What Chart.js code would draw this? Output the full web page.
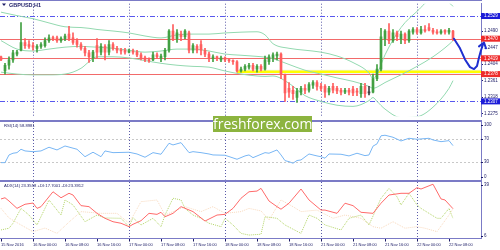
<!DOCTYPE html>
<html><head><meta charset="utf-8">
<script src="https://cdn.jsdelivr.net/npm/chart.js@4.4.1/dist/chart.umd.min.js"></script>
<style>
html,body{margin:0;padding:0;background:#fff;}
#wrap{position:relative;width:500px;height:250px;overflow:hidden;background:#fff;}
canvas{position:absolute;left:0;}
#wm{position:absolute;left:213px;top:116px;width:99px;height:16px;background:#8cb43f;color:#fff;font:14px "Open Sans",sans-serif;line-height:16px;text-align:center;white-space:nowrap;}
</style></head><body>
<div id="wrap">
<canvas id="c1" width="500" height="120" style="top:0"></canvas>
<canvas id="c2" width="500" height="60" style="top:120px"></canvas>
<canvas id="c3" width="500" height="70" style="top:180px"></canvas>
<div id="wm">freshforex.com</div>
</div>
<script>
// ---------- DATA ----------
const symbolTitle = "GBPUSD,H1";
const open  = [1.2423,1.2386,1.2401,1.2415,1.2430,1.2440,1.2460,1.2455,1.2452,1.2445,1.2450,1.2452,1.2465,1.2472,1.2472,1.2465,1.2470,1.2482,1.2472,1.2465,1.2455,1.2445,1.2433,1.2420,1.2452,1.2435,1.2450,1.2435,1.2455,1.2445,1.2440,1.2440,1.2435,1.2438,1.2435,1.2428,1.2420,1.2415,1.2415,1.2428,1.2420,1.2423,1.2440,1.2490,1.2470,1.2482,1.2475,1.2485,1.2440,1.2450,1.2455,1.2440,1.2430,1.2418,1.2423,1.2415,1.2420,1.2415,1.2413,1.2410,1.2386,1.2391,1.2396,1.2401,1.2391,1.2398,1.2391,1.2410,1.2420,1.2425,1.2430,1.2376,1.2341,1.2336,1.2317,1.2331,1.2341,1.2336,1.2349,1.2356,1.2346,1.2346,1.2331,1.2346,1.2341,1.2336,1.2331,1.2336,1.2339,1.2334,1.2327,1.2346,1.2329,1.2331,1.2366,1.2391,1.2470,1.2490,1.2465,1.2485,1.2470,1.2482,1.2465,1.2487,1.2494,1.2485,1.2494,1.2499,1.2492,1.2487,1.2485,1.2492,1.2487,1.2490];
const high  = [1.2425,1.2406,1.2423,1.2440,1.2440,1.2512,1.2470,1.2465,1.2460,1.2455,1.2460,1.2472,1.2480,1.2477,1.2477,1.2475,1.2482,1.2502,1.2485,1.2470,1.2460,1.2450,1.2440,1.2440,1.2470,1.2457,1.2455,1.2465,1.2460,1.2450,1.2445,1.2445,1.2443,1.2443,1.2440,1.2433,1.2425,1.2420,1.2435,1.2433,1.2430,1.2445,1.2494,1.2507,1.2494,1.2490,1.2494,1.2490,1.2457,1.2455,1.2465,1.2445,1.2435,1.2428,1.2425,1.2425,1.2423,1.2418,1.2415,1.2413,1.2396,1.2403,1.2406,1.2406,1.2403,1.2403,1.2425,1.2428,1.2433,1.2435,1.2433,1.2378,1.2356,1.2346,1.2341,1.2346,1.2351,1.2356,1.2361,1.2361,1.2354,1.2351,1.2346,1.2354,1.2346,1.2341,1.2341,1.2341,1.2346,1.2341,1.2354,1.2354,1.2346,1.2378,1.2403,1.2497,1.2494,1.2509,1.2494,1.2490,1.2490,1.2485,1.2494,1.2499,1.2499,1.2502,1.2504,1.2509,1.2497,1.2494,1.2494,1.2494,1.2497,1.2492];
const low   = [1.2413,1.2378,1.2391,1.2408,1.2425,1.2438,1.2445,1.2445,1.2440,1.2435,1.2445,1.2448,1.2460,1.2465,1.2460,1.2460,1.2465,1.2465,1.2455,1.2448,1.2440,1.2425,1.2408,1.2410,1.2420,1.2428,1.2415,1.2428,1.2440,1.2433,1.2430,1.2430,1.2433,1.2430,1.2423,1.2415,1.2410,1.2408,1.2413,1.2418,1.2410,1.2415,1.2435,1.2465,1.2460,1.2465,1.2470,1.2433,1.2433,1.2433,1.2428,1.2423,1.2410,1.2410,1.2413,1.2410,1.2410,1.2408,1.2403,1.2383,1.2383,1.2386,1.2391,1.2386,1.2383,1.2386,1.2388,1.2403,1.2410,1.2415,1.2366,1.2307,1.2317,1.2312,1.2304,1.2324,1.2327,1.2331,1.2341,1.2336,1.2334,1.2317,1.2324,1.2329,1.2327,1.2324,1.2327,1.2324,1.2322,1.2322,1.2317,1.2317,1.2324,1.2329,1.2361,1.2386,1.2452,1.2457,1.2460,1.2465,1.2457,1.2457,1.2460,1.2482,1.2482,1.2482,1.2487,1.2490,1.2482,1.2482,1.2482,1.2482,1.2482,1.2465];
const close = [1.2415,1.2401,1.2415,1.2433,1.2435,1.2460,1.2452,1.2450,1.2448,1.2450,1.2455,1.2465,1.2472,1.2470,1.2465,1.2470,1.2477,1.2470,1.2460,1.2455,1.2445,1.2433,1.2423,1.2435,1.2435,1.2450,1.2435,1.2455,1.2445,1.2440,1.2438,1.2435,1.2438,1.2435,1.2428,1.2420,1.2415,1.2413,1.2428,1.2423,1.2425,1.2440,1.2490,1.2470,1.2485,1.2475,1.2490,1.2440,1.2452,1.2440,1.2440,1.2430,1.2420,1.2423,1.2418,1.2420,1.2415,1.2413,1.2410,1.2386,1.2391,1.2398,1.2401,1.2391,1.2398,1.2391,1.2415,1.2423,1.2428,1.2430,1.2378,1.2329,1.2331,1.2327,1.2334,1.2341,1.2336,1.2351,1.2356,1.2346,1.2341,1.2331,1.2341,1.2336,1.2334,1.2331,1.2336,1.2331,1.2329,1.2331,1.2346,1.2327,1.2329,1.2366,1.2391,1.2475,1.2490,1.2465,1.2485,1.2475,1.2482,1.2465,1.2490,1.2494,1.2487,1.2494,1.2490,1.2492,1.2487,1.2485,1.2490,1.2487,1.2492,1.2470];

const bandIdx    = [0,4,8,12,16,20,22,24,28,32,36,40,44,48,52,56,60,64,66,68,72,76,80,84,88,92,93,94,96,100,104,108,112,113];
const bandUpper  = [1.2539,1.2530,1.2522,1.2511,1.2501,1.2499,1.2497,1.2494,1.2490,1.2485,1.2477,1.2472,1.2480,1.2482,1.2482,1.2485,1.2487,1.2488,1.2480,1.2457,1.2445,1.2440,1.2435,1.2425,1.2408,1.2381,1.2366,1.2378,1.2428,1.2499,1.2541,1.2574,1.2564,1.2554];
const bandMiddle = [1.2465,1.2443,1.2438,1.2443,1.2448,1.2450,1.2449,1.2448,1.2445,1.2440,1.2435,1.2438,1.2443,1.2443,1.2438,1.2430,1.2427,1.2424,1.2422,1.2418,1.2403,1.2388,1.2378,1.2368,1.2359,1.2346,1.2341,1.2344,1.2356,1.2376,1.2398,1.2423,1.2455,1.2465];
const bandLower  = [1.2383,1.2378,1.2376,1.2376,1.2378,1.2393,1.2410,1.2423,1.2423,1.2420,1.2413,1.2406,1.2401,1.2398,1.2396,1.2386,1.2378,1.2373,1.2372,1.2373,1.2354,1.2322,1.2307,1.2297,1.2294,1.2309,1.2317,1.2307,1.2287,1.2265,1.2267,1.2292,1.2341,1.2361];

const rsiIdx = [0,1,2,3,4,5,6,8,10,12,14,16,19,21,23,25,26,28,32,34,36,38,40,42,43,45,47,48,50,52,53,56,59,61,62,63,66,67,69,70,71,72,73,74,75,77,79,80,81,82,85,87,89,91,92,93,94,95,96,98,100,102,104,107,108,110,112,113];
const rsiVal = [29.3,29.3,42.7,45.7,46.7,52.6,49.7,48.4,49.7,56.1,51.4,58.3,52.6,39.7,47.4,39.7,49.7,46.7,47.4,44.4,38.7,46.7,43.9,63.0,60.1,64.1,46.7,48.4,46.7,44.4,42.7,42.2,35.2,41.0,42.7,38.0,46.7,45.7,51.4,42.7,32.8,31.0,28.3,33.0,34.0,44.4,41.0,39.7,37.0,44.4,43.9,41.0,45.7,41.5,42.7,58.0,62.0,76.0,77.0,73.5,67.0,71.7,70.0,71.7,68.8,65.8,67.6,58.9];

const adxIdx = [0,1,2,4,6,8,9,10,13,15,17,18,20,22,24,26,28,30,32,33,35,37,39,40,41,43,45,48,51,54,56,58,60,62,64,65,67,69,70,72,75,77,80,81,84,86,88,90,93,95,97,100,102,104,105,108,110,111,113];
const adxVal = [29.1,29.8,27.9,23.6,26.0,26.7,23.6,24.6,33.3,29.8,32.4,31.4,25.2,24.6,20.7,17.8,15.8,14.9,12.9,14.3,16.4,20.7,20.1,21.3,18.7,20.7,24.6,21.7,16.2,19.7,20.1,23.6,29.5,33.3,33.7,35.3,27.9,24.6,23.1,26.6,34.9,28.5,22.6,22.6,20.7,26.6,25.2,21.3,20.7,26.6,31.4,32.4,32.4,35.7,34.9,37.7,29.1,28.5,23.4];
const pdiIdx = [0,2,3,5,7,9,12,15,16,18,21,24,26,30,32,33,35,38,40,41,43,45,46,48,50,52,55,56,58,60,62,65,66,69,71,75,77,79,81,85,87,90,92,95,97,99,100,102,104,105,109,110,112,113];
const pdiVal = [11.0,12.0,14.9,23.6,19.7,13.9,28.5,19.7,28.5,25.6,15.8,19.7,18.0,17.8,12.9,18.1,13.9,17.8,12.9,19.7,29.5,28.5,23.6,19.7,17.8,14.9,12.9,17.8,13.9,9.0,8.0,8.5,18.7,17.8,13.9,9.0,19.7,17.8,13.9,11.0,17.8,19.7,13.9,29.5,35.3,30.4,25.6,32.4,25.6,23.6,17.8,17.8,23.6,17.7];
const mdiIdx = [0,2,5,8,11,14,17,20,25,29,32,35,39,41,46,50,53,56,60,62,65,67,70,73,75,79,83,86,90,93,95,98,101,104,106,109,112,113];
const mdiVal = [23.6,18.0,13.9,10.0,12.1,9.0,15.6,21.7,20.7,20.7,14.9,27.5,28.5,19.7,24.6,21.7,24.6,20.7,21.7,23.6,22.1,16.8,28.5,24.6,21.7,22.6,17.8,19.7,17.8,12.9,12.0,15.8,12.0,12.9,12.0,10.0,19.7,23.4];

const timeIdx    = [0,8,16,24,32,40,48,56,64,72,80,88,96,104,112];
const timeLabels = ["15 Nov 2016","16 Nov 00:00","16 Nov 08:00","16 Nov 16:00","17 Nov 00:00","17 Nov 08:00","17 Nov 16:00","18 Nov 00:00","18 Nov 08:00","18 Nov 16:00","21 Nov 00:00","21 Nov 08:00","21 Nov 16:00","22 Nov 00:00","22 Nov 08:00"];
const dayIdx = [8,32,56,80,104];

const priceTicks = [1.2490,1.2447,1.2404,1.2361,1.2318,1.2275];
const levelBlue  = [1.2529,1.2307];
const levelRed   = [1.2470,1.2419,1.2378];
const zoneLevel  = 1.2384, zoneStart = 59;
const arrowPath  = [[113.25,1.2470],[114.75,1.2445],[116,1.2416],[117.25,1.2396],[118.25,1.2391],[119,1.2399],[119.5,1.2421],[120,1.2440],[120.5,1.2455]];
const arrowHead  = [[119.5,1.2450],[120.75,1.2460],[121.25,1.2445]];

const rsiLevels = [70,30], rsiLabels = [100,70,30,0];
const adxLabels = [39,6];
const rsiTitle = "RSI(14) 58.8981";
const adxTitle = "ADX(14) 23.3558 +DI:17.7001 -DI:23.3912";

// ---------- STYLE ----------
const xMin = -0.25, xMax = 120;
const priceMin = 1.22682, priceMax = 1.25610;
const frameColor = '#7b7bc6', textColor = '#1c1c66', gridColor = '#5a5aa8';
const upColor = '#42a042', downColor = '#ff5e5e', dojiColor = '#444444';
const bandColor = '#93d9b0';
const FONT = 'Liberation Sans, Arial, sans-serif';

const bars = open.map((_, i) => i);
const barColors = bars.map(i => close[i] > open[i] ? upColor : (close[i] < open[i] ? downColor : dojiColor));
const pts = (idx, vals) => idx.map((x, k) => ({x, y: vals[k]}));

function dayLines(ctx, x, a) {
  ctx.save();
  ctx.strokeStyle = gridColor; ctx.lineWidth = 1; ctx.setLineDash([1, 2]);
  dayIdx.forEach(d => {
    const px = Math.round(x.getPixelForValue(d)) + 0.5;
    ctx.beginPath(); ctx.moveTo(px, a.top); ctx.lineTo(px, a.bottom); ctx.stroke();
  });
  ctx.restore();
}
function separator(ctx) {
  ctx.save(); ctx.fillStyle = frameColor; ctx.fillRect(0, 0, 482, 2); ctx.restore();
}
function sideLabel(ctx, a, scale, v, txt) {
  let py = scale.getPixelForValue(v);
  py = Math.min(Math.max(py, a.top + 2.7), a.bottom - 2.8);
  ctx.fillStyle = textColor; ctx.font = '4.5px ' + FONT;
  ctx.textAlign = 'left'; ctx.textBaseline = 'middle';
  ctx.fillText(txt, a.right + 3, py);
  ctx.fillRect(a.right, Math.round(py) , 2, 1);
}
function title(ctx, txt, x, y, size, bold) {
  ctx.fillStyle = textColor; ctx.font = (bold ? 'bold ' : '') + size + 'px ' + FONT;
  ctx.textAlign = 'left'; ctx.textBaseline = 'middle'; ctx.fillText(txt, x, y);
}
const yAxisBase = (extra) => Object.assign({
  position: 'right', afterFit(s) { s.width = 19; },
  grid: {display: false}, ticks: {display: false},
  border: {display: true, color: frameColor}
}, extra);

// ---------- MAIN PANEL ----------
const mainPlugin = {
  id: 'mainDeco',
  beforeDatasetsDraw(chart) {
    const {ctx, chartArea: a, scales: {x, y}} = chart;
    dayLines(ctx, x, a);
    ctx.save();
    ctx.lineWidth = 1;
    ctx.strokeStyle = '#5858ee'; ctx.setLineDash([5, 2, 1, 2]);
    levelBlue.forEach(v => {
      const py = Math.round(y.getPixelForValue(v)) + 0.5;
      ctx.beginPath(); ctx.moveTo(a.left, py); ctx.lineTo(a.right, py); ctx.stroke();
    });
    ctx.setLineDash([]);
    let py = y.getPixelForValue(zoneLevel);
    ctx.strokeStyle = '#eeeeee'; ctx.lineWidth = 4;
    ctx.beginPath(); ctx.moveTo(x.getPixelForValue(zoneStart), py); ctx.lineTo(a.right, py); ctx.stroke();
    ctx.strokeStyle = '#ffff00'; ctx.lineWidth = 2.5;
    ctx.beginPath(); ctx.moveTo(x.getPixelForValue(zoneStart), py); ctx.lineTo(a.right, py); ctx.stroke();
    ctx.strokeStyle = '#f26a6a'; ctx.lineWidth = 1;
    levelRed.forEach(v => {
      const p = Math.round(y.getPixelForValue(v)) + 0.5;
      ctx.beginPath(); ctx.moveTo(a.left, p); ctx.lineTo(a.right, p); ctx.stroke();
    });
    ctx.restore();
  },
  afterDraw(chart) {
    const {ctx, chartArea: a, scales: {x, y}} = chart;
    ctx.save();
    ctx.fillStyle = frameColor; ctx.fillRect(0, 0, 482, 1);
    // level boxes
    const box = (v, col) => {
      const py = y.getPixelForValue(v);
      ctx.fillStyle = col; ctx.fillRect(a.right, py - 3, 19, 6);
      ctx.fillStyle = '#ffffff'; ctx.font = '4.5px ' + FONT;
      ctx.textAlign = 'left'; ctx.textBaseline = 'middle';
      ctx.fillText(v.toFixed(4), a.right + 3, py);
    };
    levelBlue.forEach(v => box(v, '#1c1cd8'));
    levelRed.forEach(v => box(v, '#ee2b2b'));
    // arrow
    ctx.strokeStyle = '#1f2fd0'; ctx.lineWidth = 2; ctx.lineJoin = 'round'; ctx.lineCap = 'round';
    ctx.beginPath();
    arrowPath.forEach((p, k) => {
      const px = x.getPixelForValue(p[0]), pyy = y.getPixelForValue(p[1]);
      if (k === 0) ctx.moveTo(px, pyy); else ctx.lineTo(px, pyy);
    });
    ctx.stroke();
    ctx.beginPath();
    arrowHead.forEach((p, k) => {
      const px = x.getPixelForValue(p[0]), pyy = y.getPixelForValue(p[1]);
      if (k === 0) ctx.moveTo(px, pyy); else ctx.lineTo(px, pyy);
    });
    ctx.stroke();
    // title
    ctx.fillStyle = textColor;
    ctx.beginPath(); ctx.moveTo(2, 3.5); ctx.lineTo(6, 3.5); ctx.lineTo(4, 6); ctx.closePath(); ctx.fill();
    title(ctx, symbolTitle, 9, 5, 5.5, true);
    ctx.restore();
  }
};

new Chart(document.getElementById('c1'), {
  type: 'bar',
  data: {datasets: [
    {type: 'line', data: pts(bandIdx, bandUpper), borderColor: bandColor, borderWidth: 1, pointRadius: 0, cubicInterpolationMode: 'monotone', order: 3},
    {type: 'line', data: pts(bandIdx, bandMiddle), borderColor: bandColor, borderWidth: 1, pointRadius: 0, cubicInterpolationMode: 'monotone', order: 3},
    {type: 'line', data: pts(bandIdx, bandLower), borderColor: bandColor, borderWidth: 1, pointRadius: 0, cubicInterpolationMode: 'monotone', order: 3},
    {type: 'bar', data: bars.map(i => ({x: i, y: [low[i], high[i]]})), backgroundColor: barColors, barThickness: 1, grouped: false, order: 2},
    {type: 'bar', data: bars.map(i => ({x: i, y: [open[i], close[i]]})), backgroundColor: barColors, barThickness: 2, grouped: false, minBarLength: 1, order: 1}
  ]},
  options: {
    responsive: false, animation: false, devicePixelRatio: 1,
    layout: {padding: {top: 1, left: 0, right: 0, bottom: 0}},
    plugins: {legend: {display: false}, tooltip: {enabled: false}},
    scales: {
      x: {type: 'linear', min: xMin, max: xMax, display: false, offset: false},
      y: {position: 'right', min: priceMin, max: priceMax,
          afterFit(s) { s.width = 19; },
          afterBuildTicks(s) { s.ticks = priceTicks.map(v => ({value: v})); },
          ticks: {font: {size: 4.5, family: FONT}, color: textColor, padding: 1, callback: v => Number(v).toFixed(4)},
          grid: {drawOnChartArea: false, tickLength: 2, color: textColor},
          border: {display: true, color: frameColor}}
    }
  },
  plugins: [mainPlugin]
});

// ---------- RSI PANEL ----------
new Chart(document.getElementById('c2'), {
  type: 'line',
  data: {datasets: [
    {data: pts(rsiIdx, rsiVal), borderColor: '#78b6f4', borderWidth: 1, pointRadius: 0, tension: 0}
  ]},
  options: {
    responsive: false, animation: false, devicePixelRatio: 1,
    layout: {padding: {top: 2, left: 0, right: 0, bottom: 0.5}},
    plugins: {legend: {display: false}, tooltip: {enabled: false}},
    scales: {
      x: {type: 'linear', min: xMin, max: xMax, display: false},
      y: yAxisBase({min: 0, max: 100})
    }
  },
  plugins: [{
    id: 'rsiDeco',
    beforeDatasetsDraw(chart) {
      const {ctx, chartArea: a, scales: {x, y}} = chart;
      dayLines(ctx, x, a);
      ctx.save(); ctx.strokeStyle = '#c8c8c8'; ctx.lineWidth = 1; ctx.setLineDash([2, 2]);
      rsiLevels.forEach(v => {
        const py = Math.round(y.getPixelForValue(v)) + 0.5;
        ctx.beginPath(); ctx.moveTo(a.left, py); ctx.lineTo(a.right, py); ctx.stroke();
      });
      ctx.restore();
    },
    afterDraw(chart) {
      const {ctx, chartArea: a, scales: {y}} = chart;
      ctx.save();
      separator(ctx);
      rsiLabels.forEach(v => sideLabel(ctx, a, y, v, String(v)));
      title(ctx, rsiTitle, 4, 5.5, 4.2, false);
      ctx.restore();
    }
  }]
});

// ---------- ADX PANEL ----------
new Chart(document.getElementById('c3'), {
  type: 'line',
  data: {datasets: [
    {data: pts(adxIdx, adxVal), borderColor: '#ff6a6a', borderWidth: 1, pointRadius: 0, tension: 0, order: 1},
    {data: pts(pdiIdx, pdiVal), borderColor: '#b3d468', borderWidth: 1, borderDash: [1, 1], pointRadius: 0, tension: 0, order: 2},
    {data: pts(mdiIdx, mdiVal), borderColor: '#f8d9bd', borderWidth: 1, borderDash: [1, 1], pointRadius: 0, tension: 0, order: 3}
  ]},
  options: {
    responsive: false, animation: false, devicePixelRatio: 1,
    layout: {padding: {top: 2, left: 0, right: 0, bottom: 0}},
    plugins: {legend: {display: false}, tooltip: {enabled: false}},
    scales: {
      x: {type: 'linear', min: xMin, max: xMax, position: 'bottom',
          afterFit(s) { s.height = 11.5; },
          afterBuildTicks(s) { s.ticks = timeIdx.map(v => ({value: v})); },
          ticks: {autoSkip: false, maxRotation: 0, minRotation: 0, align: 'start', padding: 0.5,
                  font: {size: 4, family: FONT}, color: textColor,
                  callback: (v) => { const k = timeIdx.indexOf(v); return k >= 0 ? timeLabels[k] : ''; }},
          grid: {drawOnChartArea: false, tickLength: 3, color: textColor},
          border: {display: true, color: frameColor}},
      y: yAxisBase({min: 6, max: 39})
    }
  },
  plugins: [{
    id: 'adxDeco',
    beforeDatasetsDraw(chart) {
      const {ctx, chartArea: a, scales: {x}} = chart;
      dayLines(ctx, x, a);
    },
    afterDraw(chart) {
      const {ctx, chartArea: a, scales: {y}} = chart;
      ctx.save();
      separator(ctx);
      adxLabels.forEach(v => sideLabel(ctx, a, y, v, String(v)));
      title(ctx, adxTitle, 4, 6, 4.2, false);
      ctx.restore();
    }
  }]
});
</script>
</body></html>
